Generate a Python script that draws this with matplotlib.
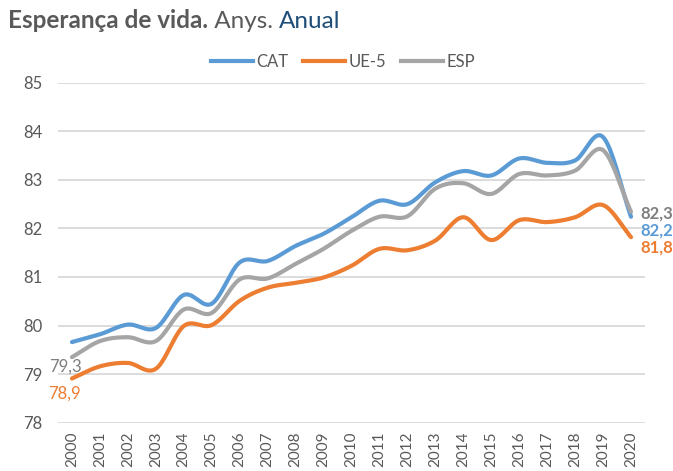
import numpy as np
import matplotlib
matplotlib.use("Agg")
import matplotlib.pyplot as plt
from matplotlib.lines import Line2D

years = list(range(2000, 2021))
year_labels = [str(y) for y in years]
cat = [79.66, 79.82, 80.02, 79.95, 80.63, 80.45, 81.30, 81.33, 81.64, 81.89,
       82.23, 82.57, 82.50, 82.95, 83.18, 83.09, 83.44, 83.35, 83.40, 83.88, 82.24]
esp = [79.35, 79.68, 79.76, 79.68, 80.33, 80.26, 80.95, 80.97, 81.27, 81.58,
       81.95, 82.24, 82.25, 82.82, 82.93, 82.71, 83.12, 83.09, 83.19, 83.61, 82.34]
ue5 = [78.91, 79.16, 79.23, 79.11, 79.99, 80.01, 80.51, 80.78, 80.88, 80.99,
       81.23, 81.58, 81.55, 81.75, 82.23, 81.76, 82.17, 82.13, 82.23, 82.48, 81.82]

series = [("CAT", cat, "#5B9BD5"), ("UE-5", ue5, "#ED7D31"), ("ESP", esp, "#A5A5A5")]

FONT = ["Lato", "DejaVu Sans"]
plt.rcParams['font.family'] = FONT
TXT = "#595959"

def smooth(x, y, n=20):
    # Catmull-Rom style smoothing (like Excel's smoothed lines)
    x = np.asarray(x, float); y = np.asarray(y, float)
    P = np.column_stack([x, y])
    P = np.vstack([P[0] - (P[1] - P[0]), P, P[-1] + (P[-1] - P[-2])])
    out = []
    for i in range(1, len(P) - 2):
        p0, p1, p2, p3 = P[i - 1], P[i], P[i + 1], P[i + 2]
        c1 = p1 + (p2 - p0) / 6.0
        c2 = p2 - (p3 - p1) / 6.0
        t = np.linspace(0, 1, n, endpoint=(i == len(P) - 3))[:, None]
        pts = (1 - t) ** 3 * p1 + 3 * (1 - t) ** 2 * t * c1 + 3 * (1 - t) * t ** 2 * c2 + t ** 3 * p2
        out.append(pts)
    out = np.vstack(out)
    return out[:, 0], out[:, 1]

fig = plt.figure(figsize=(6.73, 4.71), dpi=100)
ax = fig.add_axes([58/673, 1-422.7/471, (645-58)/673, (422.7-82.7)/471])

xs = np.arange(len(years))
for name, vals, col in series:
    sx, sy = smooth(xs, vals)
    ax.plot(sx, sy, color=col, lw=3.0, solid_capstyle='round', zorder=3)

ax.set_xlim(-0.5, len(years) - 0.5)
ax.set_ylim(78, 85)
ax.set_yticks(range(78, 86))
ax.set_xticks(xs)
ax.set_xticklabels(year_labels, rotation=90, fontsize=11, color=TXT)
ax.tick_params(axis='y', labelsize=12, colors=TXT, length=0, pad=11)
ax.tick_params(axis='x', length=0, pad=6)
ax.grid(axis='y', color="#D9D9D9", lw=1.3)
ax.set_axisbelow(True)
for s in ax.spines.values():
    s.set_visible(False)

# end labels
ax.text(20.35, 82.3, "82,3", color="#7F7F7F", fontsize=12, fontweight='bold', va='center', ha='left')
ax.text(20.35, 81.95, "82,2", color="#5B9BD5", fontsize=12, fontweight='bold', va='center', ha='left')
ax.text(20.35, 81.6, "81,8", color="#ED7D31", fontsize=12, fontweight='bold', va='center', ha='left')
# start labels
ax.text(0.35, 79.15, "79,3", color="#7F7F7F", fontsize=12, va='center', ha='right')
ax.text(0.3, 78.6, "78,9", color="#ED7D31", fontsize=12, va='center', ha='right')
for t in ax.texts:
    t.set_clip_on(False)

# legend
handles = [Line2D([], [], color=c, lw=3.0) for _, _, c in series]
fig.legend(handles, [n for n, _, _ in series], loc='center', bbox_to_anchor=(343/673, 1-62/471),
           ncol=3, frameon=False, fontsize=12, handlelength=2.5, handletextpad=0.2,
           columnspacing=0.9, labelcolor=TXT)

# title
from matplotlib.offsetbox import TextArea, HPacker, AnchoredOffsetbox
t1 = TextArea("Esperança de vida.", textprops=dict(color=TXT, fontsize=17.5, fontweight='bold', family=FONT))
t2 = TextArea(" Anys. ", textprops=dict(color=TXT, fontsize=17.5, family=FONT))
t3 = TextArea("Anual", textprops=dict(color="#1F4E79", fontsize=17.5, family=FONT))
box = HPacker(children=[t1, t2, t3], align="baseline", pad=0, sep=0)
ab = AnchoredOffsetbox(loc='upper left', child=box, pad=0, frameon=False,
                       bbox_to_anchor=(8/673, 1-9/471), bbox_transform=fig.transFigure, borderpad=0)
fig.add_artist(ab)

fig.savefig("out.png", dpi=100)
